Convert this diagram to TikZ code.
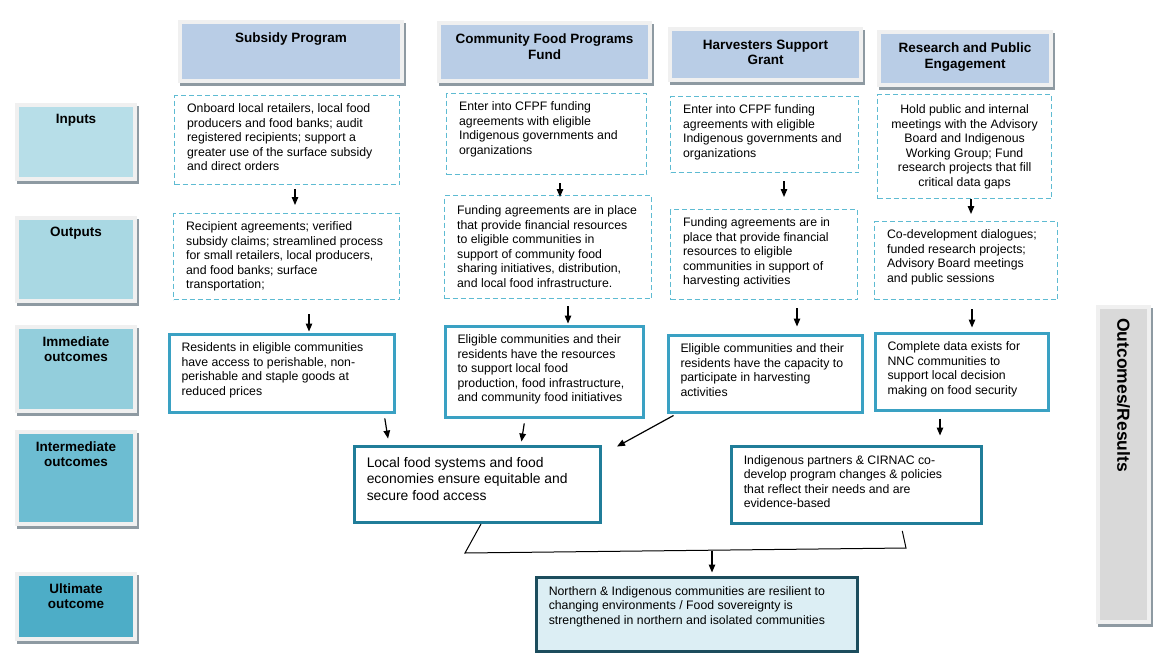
\documentclass[tikz,border=0pt]{standalone}
\usepackage{fontspec}
\setmainfont{Liberation Sans}
\usetikzlibrary{arrows.meta}

\definecolor{headblue}{HTML}{B9CDE6}
\definecolor{framegray}{HTML}{F0F0F0}
\definecolor{shadowgray}{HTML}{8E9AA2}
\definecolor{inputcol}{HTML}{B7DEE8}
\definecolor{outputcol}{HTML}{A9D8E3}
\definecolor{immcol}{HTML}{93CEDC}
\definecolor{midcol}{HTML}{6DBDD2}
\definecolor{ultcol}{HTML}{4DADC7}
\definecolor{sidegray}{HTML}{D9D9D9}
\definecolor{dashblue}{HTML}{5EBBD2}
\definecolor{immline}{HTML}{3AA1C3}
\definecolor{midline}{HTML}{207D99}
\definecolor{ultline}{HTML}{1C4D5D}
\definecolor{ultfill}{HTML}{DCEEF4}

\newcommand{\cell}[4][\raggedright\leftskip=6.5pt\relax]{\parbox[t][#3pt][t]{#2pt}{#1#4}}

\begin{document}
\begin{tikzpicture}[x=1pt, y=-1pt,
  bodytext/.style={font=\fontsize{12.3}{14.5}\selectfont},
  framed/.style={draw=framegray, line width=4pt,
    preaction={draw=shadowgray, line width=4pt, transform canvas={xshift=2pt, yshift=-3pt}}},
  head/.style={framed, fill=headblue, anchor=north west, inner xsep=0pt, inner ysep=11pt,
    font=\bfseries\fontsize{13.5}{15.5}\selectfont},
  stage/.style={framed, fill=#1, anchor=north west, inner xsep=0pt, inner ysep=9.5pt,
    font=\bfseries\fontsize{13.5}{15.5}\selectfont},
  dbox/.style={bodytext, draw=dashblue, line width=1.2pt, dash pattern=on 5pt off 3pt,
    anchor=north west, inner xsep=6pt, inner ysep=8pt},
  ibox/.style={bodytext, draw=immline, line width=3pt, fill=white, anchor=north west,
    inner xsep=6pt, inner ysep=9pt},
  mbox/.style={bodytext, draw=midline, line width=3.5pt, fill=white, anchor=north west,
    inner xsep=6pt, inner ysep=9pt},
  ubox/.style={bodytext, draw=ultline, line width=3.5pt, fill=ultfill, anchor=north west,
    inner xsep=6pt, inner ysep=9pt},
  arr/.style={-{Triangle[length=8pt, width=6.5pt]}, line width=1.2pt},
  link/.style={line width=1pt}
]
\path[use as bounding box, fill=white] (0,0) rectangle (1170,664);

% Program headers
\node[head] (sub) at (178,20) {\cell[\centering]{222}{37}{Subsidy Program}};
\node[head] (cfpf) at (437,21) {\cell[\centering]{211}{36}{Community Food Programs\\Fund}};
\node[head] (harv) at (668,27) {\cell[\centering]{191}{29}{Harvesters Support\\Grant}};
\node[head] (res) at (877,30) {\cell[\centering]{172}{31}{Research and Public\\Engagement}};

% Levels
\node[stage=inputcol] (inputs) at (15,103) {\cell[\centering]{118}{55}{Inputs}};
\node[stage=outputcol] (outputs) at (15,216) {\cell[\centering]{118}{64}{Outputs}};
\node[stage=immcol] (immediate) at (15,325) {\cell[\centering]{118}{65}{Immediate\\outcomes}};
\node[stage=midcol] (intermediate) at (15,430) {\cell[\centering]{118}{73}{Intermediate\\outcomes}};
\node[stage=ultcol] (ultimate) at (15,572) {\cell[\centering]{118}{46}{Ultimate\\outcome}};

\node[framed, fill=sidegray, anchor=north west, inner sep=0pt, minimum width=51pt,
  minimum height=315pt] (side) at (1096,305) {};
\node[rotate=-90, anchor=west, inner sep=0pt, font=\bfseries\fontsize{17.5}{20}\selectfont]
  (sidetext) at ([yshift=-13pt]side.north) {Outcomes/Results};

% Inputs
\node[dbox] (in1) at (174,95) {\cell{213}{73}{Onboard local retailers, local food\\producers and food banks; audit\\registered recipients; support a\\greater use of the surface subsidy\\and direct orders}};
\node[dbox] (in2) at (446,93) {\cell{188}{65}{Enter into CFPF funding\\agreements with eligible\\Indigenous governments and\\organizations}};
\node[dbox] (in3) at (670,96) {\cell{176}{60}{Enter into CFPF funding\\agreements with eligible\\Indigenous governments and\\organizations}};
\node[dbox, inner ysep=10pt] (in4) at (877,94) {\cell[\centering]{162}{84}{Hold public and internal\\meetings with the Advisory\\Board and Indigenous\\Working Group; Fund\\research projects that fill\\critical data gaps}};

% Outputs
\node[dbox] (out1) at (173,213) {\cell{214}{70}{Recipient agreements; verified\\subsidy claims; streamlined process\\for small retailers, local producers,\\and food banks; surface\\transportation;}};
\node[dbox, inner ysep=10pt] (out2) at (444,195) {\cell{195}{83}{Funding agreements are in place\\that provide financial resources\\to eligible communities in\\support of community food\\sharing initiatives, distribution,\\and local food infrastructure.}};
\node[dbox] (out3) at (670,209) {\cell{175}{74}{Funding agreements are in\\place that provide financial\\resources to eligible\\communities in support of\\harvesting activities}};
\node[dbox] (out4) at (874,221) {\cell{171}{62}{Co-development dialogues;\\funded research projects;\\Advisory Board meetings\\and public sessions}};

% Immediate outcomes
\node[ibox] (imm1) at (167.5,332.5) {\cell{213}{60}{Residents in eligible communities\\have access to perishable, non-\\perishable and staple goods at\\reduced prices}};
\node[ibox] (imm2) at (443.5,324.5) {\cell{186}{73}{Eligible communities and their\\residents have the resources\\to support local food\\production, food infrastructure,\\and community food initiatives}};
\node[ibox] (imm3) at (666.5,333.5) {\cell{182}{59}{Eligible communities and their\\residents have the capacity to\\participate in harvesting\\activities}};
\node[ibox] (imm4) at (873.5,331.5) {\cell{161}{59}{Complete data exists for\\NNC communities to\\support local decision\\making on food security}};

% Intermediate and ultimate outcomes
\node[mbox, inner ysep=11pt, font=\fontsize{13.9}{16.5}\selectfont] (int1) at (352.5,444.5) {\cell{234}{54}{Local food systems and food\\economies ensure equitable and\\secure food access}};
\node[mbox] (int2) at (729.5,444.5) {\cell{238}{59}{Indigenous partners \& CIRNAC co-\\develop program changes \& policies\\that reflect their needs and are\\evidence-based}};
\node[ubox] (ult) at (534.5,575.5) {\cell{309}{56}{Northern \& Indigenous communities are resilient to\\changing environments / Food sovereignty is\\strengthened in northern and isolated communities}};

% Arrows
\draw[arr, shorten <=4pt, shorten >=8pt] (in1.south -| 295,0) -- (out1.north -| 295,0);
\draw[arr, shorten <=8pt, shorten >=-2pt] (in2.south -| 560,0) -- (out2.north -| 560,0);
\draw[arr, shorten <=8pt, shorten >=12pt] (in3.south -| 784,0) -- (out3.north -| 784,0);
\draw[arr, shorten <=0pt, shorten >=7pt] (in4.south -| 971,0) -- (out4.north -| 971,0);
\draw[arr, shorten <=14pt, shorten >=1pt] (out1.south -| 309,0) -- (imm1.north -| 309,0);
\draw[arr, shorten <=7pt, shorten >=1pt] (out2.south -| 568,0) -- (imm2.north -| 568,0);
\draw[arr, shorten <=8pt, shorten >=7pt] (out3.south -| 797,0) -- (imm3.north -| 797,0);
\draw[arr, shorten <=9pt, shorten >=4pt] (out4.south -| 972,0) -- (imm4.north -| 972,0);
\draw[arr, shorten <=5pt, shorten >=6pt] (imm1.south -| 384,0) -- (int1.north -| 389,0);
\draw[arr, shorten <=5pt, shorten >=3pt] (imm2.south -| 525,0) -- (int1.north -| 521,0);
\draw[arr] ([shift={(7,2)}]imm3.south west) -- ([shift={(15,2)}]int1.north east);
\draw[arr, shorten <=7pt, shorten >=9pt] (imm4.south -| 940,0) -- (int2.north -| 940,0);

% Join
\coordinate (joinL) at (465,553);
\coordinate (joinR) at (906,548);
\coordinate (joinM) at (712,550.5);
\draw[link, shorten >=6pt] (int1.south -| 481,0) -- (joinL) -- (joinR) -- (int2.south -| 901,0);
\draw[arr, shorten >=3pt] (joinM) -- (ult.north -| joinM);

\end{tikzpicture}
\end{document}
